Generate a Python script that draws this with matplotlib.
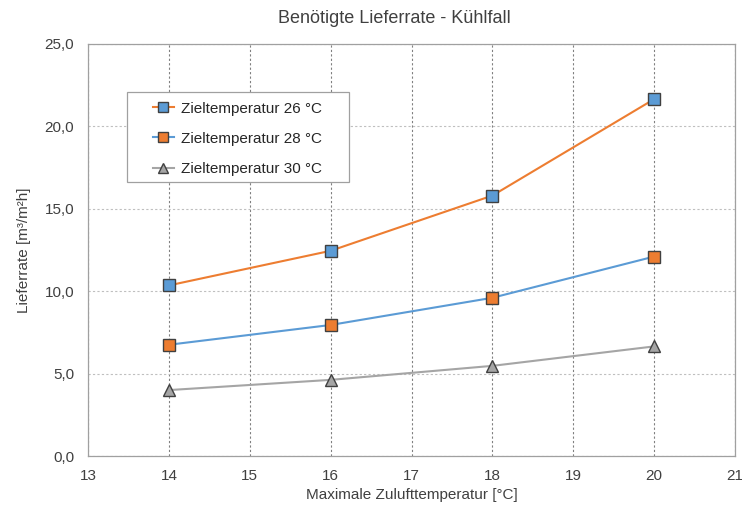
import matplotlib
matplotlib.use('Agg')
import matplotlib.pyplot as plt
from matplotlib.patches import Rectangle
from matplotlib.ticker import FuncFormatter

plt.rcParams['font.family'] = ['Liberation Sans', 'DejaVu Sans']

# ==== Daten ====
temp_zuluft = [14, 16, 18, 20]
rate_26 = [10.35, 12.45, 15.8, 21.65]
rate_28 = [6.75, 7.95, 9.6, 12.1]
rate_30 = [4.0, 4.62, 5.47, 6.65]
labels = ['Zieltemperatur 26 °C', 'Zieltemperatur 28 °C', 'Zieltemperatur 30 °C']

orange = '#ED7D31'
blue = '#5B9BD5'
gray = '#A5A5A5'
txt = '#404040'

fig = plt.figure(figsize=(7.42, 5.05), dpi=100)
ax = fig.add_axes([0.1186, 0.097, 0.872, 0.816])

ax.plot(temp_zuluft, rate_26, color=orange, lw=1.5, marker='s', ms=8.5,
        mfc=blue, mec='#404040', mew=1.0, label=labels[0], zorder=3)
ax.plot(temp_zuluft, rate_28, color=blue, lw=1.5, marker='s', ms=8.5,
        mfc=orange, mec='#404040', mew=1.0, label=labels[1], zorder=3)
ax.plot(temp_zuluft, rate_30, color=gray, lw=1.5, marker='^', ms=8,
        mfc=gray, mec='#404040', mew=1.0, label=labels[2], zorder=3)

ax.set_xlim(13, 21)
ax.set_ylim(0, 25)
ax.set_xticks(range(13, 22))
ax.set_yticks([0, 5, 10, 15, 20, 25])
ax.yaxis.set_major_formatter(FuncFormatter(lambda v, p: f'{v:.1f}'.replace('.', ',')))

ax.xaxis.grid(True, linestyle=(0, (2, 2)), color='#808080', lw=0.8)
ax.yaxis.grid(True, linestyle=(0, (2, 2)), color='#BFBFBF', lw=0.8)
ax.set_axisbelow(True)
for s in ax.spines.values():
    s.set_color('#A0A0A0')
    s.set_linewidth(0.9)

ax.tick_params(length=0, labelsize=11, colors=txt)
ax.tick_params(axis='x', pad=9)
ax.tick_params(axis='y', pad=10)

ax.set_xlabel('Maximale Zulufttemperatur [°C]', fontsize=11, color=txt, labelpad=4)
ax.set_ylabel('Lieferrate [m³/m²h]', fontsize=11, color=txt, labelpad=10)
fig.text(0.532, 0.964, 'Benötigte Lieferrate - Kühlfall', ha='center', va='center',
         fontsize=13, color=txt)

# Legendenrahmen separat, damit der Innenabstand wie im Original ist
ax.add_patch(Rectangle((127 / 742, 1 - 182 / 505), 222 / 742, 90 / 505,
                       transform=fig.transFigure, fill=True, fc='white',
                       ec='#A0A0A0', lw=0.9, zorder=5, clip_on=False))
leg = ax.legend(loc='upper left', bbox_to_anchor=(153 / 742, 1 - 101.5 / 505),
                bbox_transform=fig.transFigure, fontsize=11, frameon=False,
                handlelength=1.37, labelspacing=1.06, borderpad=0,
                borderaxespad=0, handletextpad=0.45, markerscale=0.9)
leg.set_zorder(6)
for t in leg.get_texts():
    t.set_color('#262626')

fig.savefig('out.png', dpi=100)
